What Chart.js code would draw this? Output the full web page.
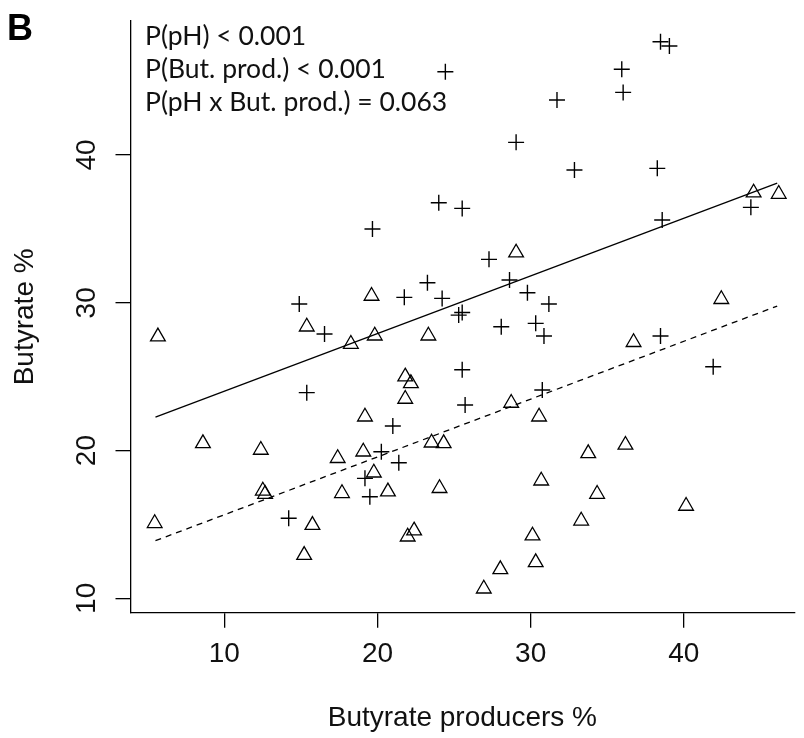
<!DOCTYPE html>
<html>
<head>
<meta charset="utf-8">
<script src="https://cdn.jsdelivr.net/npm/chart.js@4.4.1/dist/chart.umd.min.js"></script>
<style>
  html, body { margin: 0; padding: 0; background: #fff; }
  #wrap { width: 804px; height: 738px; }
</style>
</head>
<body>
<div id="wrap"><canvas id="chart" width="804" height="738"></canvas></div>
<script>
// axis ticks
const xTicks = [10, 20, 30, 40];
const yTicks = [10, 20, 30, 40];

// "+" group
const plusX = [24.43, 38.48, 39.06, 35.95, 36.04, 31.72, 29.05, 32.86, 38.27, 24.0,
               25.53, 19.67, 38.59, 44.38, 27.28, 28.62, 23.26, 29.79, 21.75, 24.22,
               31.19, 14.89, 25.30, 25.53, 28.08, 30.33, 30.87, 16.54, 38.48, 41.92,
               25.53, 30.76, 15.38, 25.72, 21.0, 20.25, 21.39, 19.18, 19.5, 14.2];
const plusY = [45.64, 47.67, 47.38, 45.80, 44.24, 43.72, 40.86, 38.99, 39.10, 36.77,
               36.39, 34.99, 35.60, 36.46, 32.94, 31.54, 31.36, 30.68, 30.37, 30.30,
               29.92, 29.92, 29.17, 29.34, 28.38, 28.61, 27.75, 27.89, 27.75, 25.67,
               25.47, 24.10, 23.92, 23.08, 21.66, 19.92, 19.18, 18.12, 16.88, 15.42];

// triangle group
const triX = [44.56, 46.2, 19.61, 29.05, 15.38, 5.66, 18.26, 19.82, 23.32, 42.45,
              36.72, 21.81, 22.18, 21.81, 28.73, 30.55, 19.18, 8.6, 12.38, 17.4,
              19.07, 23.53, 24.32, 19.76, 12.51, 12.66, 17.68, 20.68, 24.05, 5.45,
              15.75, 22.39, 21.97, 15.21, 33.76, 36.19, 30.69, 34.34, 40.15, 33.3,
              30.12, 30.33, 28.02, 26.94];
const triY = [37.45, 37.36, 30.46, 33.39, 28.38, 27.71, 27.21, 27.77, 27.77, 30.24,
              27.33, 25.0, 24.55, 23.49, 23.22, 22.29, 22.29, 20.49, 20.04, 19.48,
              19.92, 20.53, 20.49, 18.5, 17.28, 17.06, 17.11, 17.22, 17.45, 15.08,
              14.96, 14.58, 14.17, 12.93, 19.81, 20.38, 17.96, 17.06, 16.25, 15.25,
              14.24, 12.44, 11.96, 10.65];

// fitted lines
const solidX = [5.5, 46.1];
const solidY = [22.27, 38.1];
const dashX = [5.5, 46.1];
const dashY = [13.9, 29.78];

const pLabels = ['P(pH) < 0.001', 'P(But. prod.) < 0.001', 'P(pH x But. prod.) = 0.063'];
const xTitle = 'Butyrate producers %';
const yTitle = 'Butyrate %';
const panel = 'B';

function pts(xs, ys) {
    return xs.map((x, i) => ({ x: x, y: ys[i] }));
}

const tickFont = { family: 'Liberation Sans, Arial, sans-serif', size: 28 };

const overlay = {
    id: 'overlay',
    afterDraw(chart) {
        const ctx = chart.ctx;
        const ys = chart.scales.y;
        ctx.save();
        ctx.fillStyle = '#111';
        ctx.font = '28px "Liberation Sans", Arial, sans-serif';
        ctx.textAlign = 'center';
        ctx.textBaseline = 'alphabetic';
        yTicks.forEach(v => {
            ctx.save();
            ctx.translate(95, ys.getPixelForValue(v));
            ctx.rotate(-Math.PI / 2);
            ctx.fillText(String(v), 0, 0);
            ctx.restore();
        });
        ctx.textAlign = 'left';
        ctx.fillStyle = '#000';
        ctx.font = 'bold 36px "Liberation Sans", Arial, sans-serif';
        ctx.fillText(panel, 7, 40);
        ctx.font = '26.5px Lato, "Open Sans", sans-serif';
        ctx.fillStyle = '#111';
        pLabels.forEach((t, i) => {
            ctx.fillText(t, 145, 45 + i * 33);
        });
        ctx.restore();
    }
};

new Chart(document.getElementById('chart'), {
    type: 'scatter',
    data: {
        datasets: [
            {
                label: 'plus',
                data: pts(plusX, plusY),
                pointStyle: 'cross',
                pointRadius: 8,
                pointHoverRadius: 8,
                borderColor: '#000',
                borderWidth: 1.4,
                backgroundColor: 'rgba(0,0,0,0)'
            },
            {
                label: 'triangle',
                data: pts(triX, triY),
                pointStyle: 'triangle',
                pointRadius: 8.5,
                pointHoverRadius: 8.5,
                borderColor: '#000',
                borderWidth: 1.3,
                backgroundColor: 'rgba(0,0,0,0)'
            },
            {
                type: 'line',
                label: 'fit1',
                data: pts(solidX, solidY),
                borderColor: '#000',
                borderWidth: 1.3,
                pointRadius: 0,
                fill: false
            },
            {
                type: 'line',
                label: 'fit2',
                data: pts(dashX, dashY),
                borderColor: '#000',
                borderWidth: 1.3,
                borderDash: [6, 5],
                pointRadius: 0,
                fill: false
            }
        ]
    },
    options: {
        responsive: false,
        animation: false,
        devicePixelRatio: 1,
        layout: { padding: { top: 21, right: 0, left: 0, bottom: 0 } },
        plugins: {
            legend: { display: false },
            tooltip: { enabled: false }
        },
        scales: {
            x: {
                type: 'linear',
                min: 3.87,
                max: 47.21,
                afterBuildTicks: s => { s.ticks = xTicks.map(v => ({ value: v })); },
                afterFit: s => { s.height = 125.3; },
                grid: { display: true, drawOnChartArea: false, drawTicks: true, tickLength: 15, color: '#000', lineWidth: 1.3 },
                border: { display: true, color: '#000', width: 1.3 },
                ticks: { color: '#111', font: tickFont, padding: 10, maxRotation: 0 },
                title: { display: true, text: xTitle, color: '#111', font: tickFont, padding: { top: 0, bottom: 3 } }
            },
            y: {
                type: 'linear',
                min: 9.03,
                max: 49.07,
                afterBuildTicks: s => { s.ticks = yTicks.map(v => ({ value: v })); },
                afterFit: s => { s.width = 130.5; },
                grid: { display: true, drawOnChartArea: false, drawTicks: true, tickLength: 15, color: '#000', lineWidth: 1.3 },
                border: { display: true, color: '#000', width: 1.3 },
                ticks: { display: false },
                title: { display: true, text: yTitle, color: '#111', font: tickFont, padding: { top: 8, bottom: 0 } }
            }
        }
    },
    plugins: [overlay]
});
</script>
</body>
</html>
